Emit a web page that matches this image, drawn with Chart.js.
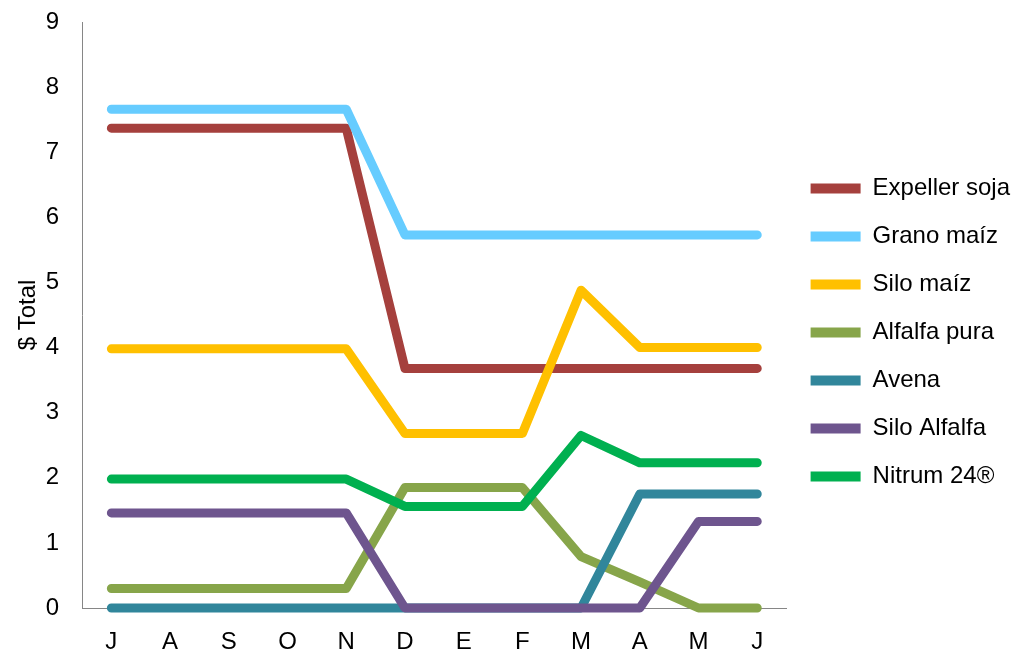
<!DOCTYPE html>
<html>
<head>
<meta charset="utf-8">
<script src="https://cdn.jsdelivr.net/npm/chart.js@4.4.1/dist/chart.umd.min.js"></script>
<style>
  body { margin: 0; background: #fff; }
</style>
</head>
<body>
<canvas id="myChart" width="1034" height="662"></canvas>
<script>
let months = ['J', 'A', 'S', 'O', 'N', 'D', 'E', 'F', 'M', 'A', 'M', 'J']

let expellerSoja = [7.37, 7.37, 7.37, 7.37, 7.37, 3.68, 3.68, 3.68, 3.68, 3.68, 3.68, 3.68]
let granoMaiz = [7.66, 7.66, 7.66, 7.66, 7.66, 5.73, 5.73, 5.73, 5.73, 5.73, 5.73, 5.73]
let siloMaiz = [3.98, 3.98, 3.98, 3.98, 3.98, 2.68, 2.68, 2.68, 4.88, 4.0, 4.0, 4.0]
let alfalfaPura = [0.3, 0.3, 0.3, 0.3, 0.3, 1.85, 1.85, 1.85, 0.79, 0.4, 0, 0]
let avena = [0, 0, 0, 0, 0, 0, 0, 0, 0, 1.75, 1.75, 1.75]
let siloAlfalfa = [1.46, 1.46, 1.46, 1.46, 1.46, 0, 0, 0, 0, 0, 1.33, 1.33]
let nitrum = [1.98, 1.98, 1.98, 1.98, 1.98, 1.56, 1.56, 1.56, 2.65, 2.23, 2.23, 2.23]

let yTicks = [0, 1, 2, 3, 4, 5, 6, 7, 8, 9]

let font = { family: 'Liberation Sans, Arial', size: 24 }

function serie(label, data, color, order) {
    return {
        label: label,
        data: data,
        borderColor: color,
        backgroundColor: color,
        borderWidth: 9,
        borderCapStyle: 'round',
        borderJoinStyle: 'round',
        pointRadius: 0,
        tension: 0,
        clip: 10,
        order: order
    }
}

var ctx = document.getElementById("myChart");

new Chart(ctx, {
    type: 'line',
    data: {
        labels: months,
        datasets: [
            serie('Expeller soja', expellerSoja, '#A5403D', 7),
            serie('Grano maíz', granoMaiz, '#66CCFF', 6),
            serie('Silo maíz', siloMaiz, '#FFC000', 5),
            serie('Alfalfa pura', alfalfaPura, '#87A54A', 4),
            serie('Avena', avena, '#31869B', 3),
            serie('Silo Alfalfa', siloAlfalfa, '#6E558E', 2),
            serie('Nitrum 24®', nitrum, '#00B050', 1)
        ]
    },
    options: {
        responsive: false,
        animation: false,
        layout: {
            autoPadding: false,
            padding: { left: 4, right: 14, top: 8, bottom: 5 }
        },
        plugins: {
            tooltip: { enabled: false },
            legend: {
                position: 'right',
                labels: {
                    boxWidth: 50,
                    boxHeight: 10,
                    padding: 24,
                    color: '#000',
                    font: font,
                    sort: (a, b) => a.datasetIndex - b.datasetIndex,
                    generateLabels: function(chart) {
                        return chart.data.datasets.map((ds, i) => ({
                            text: ds.label,
                            fillStyle: ds.borderColor,
                            strokeStyle: ds.borderColor,
                            lineWidth: 0,
                            datasetIndex: i,
                            hidden: false
                        }))
                    }
                }
            }
        },
        scales: {
            x: {
                offset: true,
                grid: { display: false, drawTicks: false },
                border: { display: true, color: '#868686', width: 1 },
                afterFit: function(axis) {
                    axis.height = 49
                    axis.paddingLeft = 0
                    axis.paddingRight = 0
                },
                ticks: {
                    color: '#000',
                    padding: 20,
                    maxRotation: 0,
                    autoSkip: false,
                    font: font
                }
            },
            y: {
                min: 0,
                max: 9,
                afterBuildTicks: function(axis) {
                    axis.ticks = yTicks.map(v => ({ value: v }))
                },
                afterFit: function(axis) {
                    axis.width = 78
                    axis.paddingTop = 22
                    axis.paddingBottom = 0
                },
                grid: { display: false, drawTicks: false },
                border: { display: true, color: '#868686', width: 1 },
                title: {
                    display: true,
                    text: '$ Total',
                    color: '#000',
                    padding: { top: 10, bottom: 3 },
                    font: font
                },
                ticks: {
                    color: '#000',
                    padding: 23,
                    font: font
                }
            }
        }
    }
});
</script>
</body>
</html>
